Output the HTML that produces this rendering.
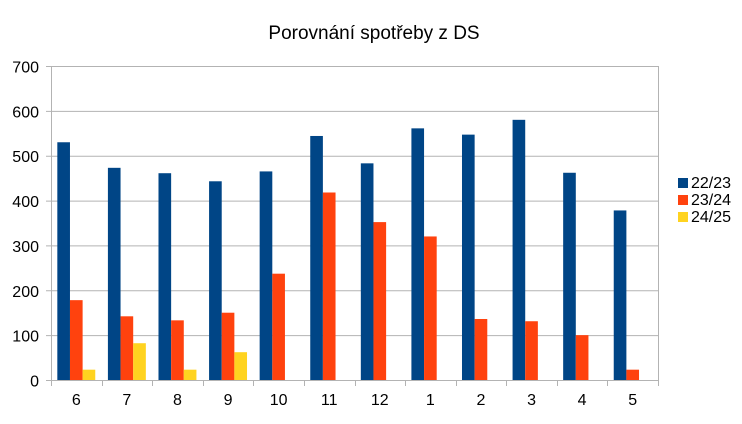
<!DOCTYPE html>
<html><head><meta charset="utf-8"><style>body{margin:0;background:#fff}</style></head><body>
<svg width="742" height="419" xmlns="http://www.w3.org/2000/svg" font-family="Liberation Sans, sans-serif">
<rect width="742" height="419" fill="#fff"/>
<text x="374" y="39" font-size="19" text-anchor="middle" fill="#000">Porovnání spotřeby z DS</text>
<g id="grid" stroke="#b3b3b3" stroke-width="1"></g>
<g id="bars"></g>
<g id="labels" font-size="16" fill="#000"></g>
<g font-size="16" fill="#000">
<rect x="678" y="178" width="10" height="10" fill="#004586"/><text x="691" y="188">22/23</text>
<rect x="678" y="195" width="10" height="10" fill="#ff420e"/><text x="691" y="205">23/24</text>
<rect x="678" y="212" width="10" height="10" fill="#ffd320"/><text x="691" y="222">24/25</text>
</g>
<script>
var L=51,R=658,T=66,B=380,s=(B-T)/700,ns="http://www.w3.org/2000/svg";
function el(p,t,a,txt){var e=document.createElementNS(ns,t);for(var k in a)e.setAttribute(k,a[k]);if(txt!=null)e.textContent=txt;document.getElementById(p).appendChild(e);}
for(var v=0;v<=700;v+=100){var y=B-v*s+0.5;el('grid','line',{x1:L-5,x2:R,y1:y,y2:y});el('labels','text',{x:39,y:y+6,'text-anchor':'end'},v);}
el('grid','line',{x1:L+0.5,x2:L+0.5,y1:T,y2:B+6});el('grid','line',{x1:R+0.5,x2:R+0.5,y1:T,y2:B+6});
var cats=['6','7','8','9','10','11','12','1','2','3','4','5'];
var d=[[530,178,23],[473,142,82],[461,133,23],[443,150,62],[465,237,0],[544,418,0],[483,352,0],[561,320,0],[547,136,0],[580,131,0],[462,100,0],[378,23,0]];
var cw=(R-L)/12,bw=cw*0.25,cols=['#004586','#ff420e','#ffd320'];
for(var i=0;i<12;i++){var x0=L+i*cw;if(i>0)el('grid','line',{x1:Math.round(x0)+0.5,x2:Math.round(x0)+0.5,y1:B,y2:B+6});
for(var j=0;j<3;j++){var h=d[i][j]*s;if(h>0)el('bars','rect',{x:x0+cw*0.125+j*bw,y:B-h,width:bw,height:h,fill:cols[j]});}
el('labels','text',{x:x0+cw/2,y:405,'text-anchor':'middle'},cats[i]);}
</script>
</svg>
</body></html>
